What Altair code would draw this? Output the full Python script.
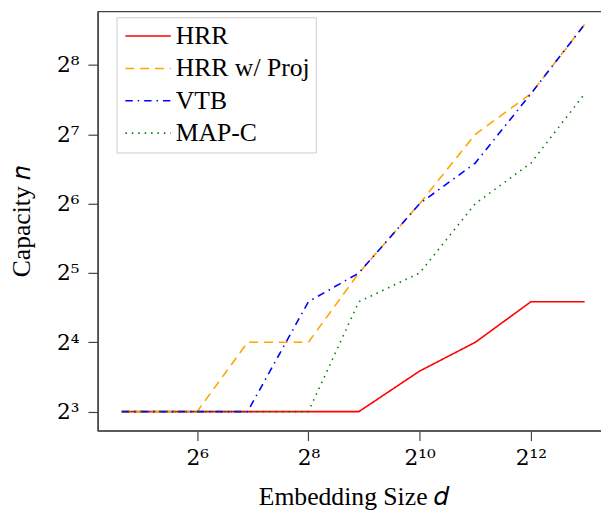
import altair as alt
import pandas as pd

# ---- data ----
d_values = [25, 64, 120, 256, 480, 1024, 2048, 4096, 8000]
hrr = [8, 8, 8, 8, 8, 12, 16, 24, 24]
hrr_proj = [8, 8, 16, 16, 32, 64, 128, 192, 384]
vtb = [8, 8, 8, 24, 32, 64, 96, 192, 384]
map_c = [8, 8, 8, 8, 24, 32, 64, 96, 192]

series_names = ["HRR", "HRR w/ Proj", "VTB", "MAP-C"]
series_values = [hrr, hrr_proj, vtb, map_c]
series_colors = ["#ff0000", "#ffa500", "#0000ff", "#008000"]
series_dashes = [[1, 0], [9, 6], [7.5, 5, 1.5, 5], [1.5, 5]]

x_ticks = [64, 256, 1024, 4096]
x_tick_labels = ["2⁶", "2⁸", "2¹⁰", "2¹²"]
y_ticks = [8, 16, 32, 64, 128, 256]
y_tick_labels = ["2³", "2⁴", "2⁵", "2⁶", "2⁷", "2⁸"]

rows = []
for name, vals in zip(series_names, series_values):
    for dv, nv in zip(d_values, vals):
        rows.append({"d": dv, "n": nv, "series": name})
df = pd.DataFrame(rows)


def label_expr(vals, labels):
    expr = "''"
    for v, lab in reversed(list(zip(vals, labels))):
        expr = f"abs(datum.value - {v}) < 0.001 ? '{lab}' : ({expr})"
    return expr


FONT = "Liberation Serif"
TICKFONT = "DejaVu Serif"
AX = "#444444"
W, H = 510, 425

x_scale = alt.Scale(type="log", base=2, domain=[18.56, 9810], nice=False)
y_scale = alt.Scale(type="log", base=2, domain=[6.61, 437.4], nice=False)

legend_cfg = dict(
    title=None,
    orient="none",
    legendX=19,
    legendY=6,
    symbolType="M-1,0L3.6,0",
    symbolSize=400,
    symbolStrokeWidth=1.6,
    labelFont=FONT,
    labelFontSize=26,
    labelColor="black",
    labelOffset=28,
    rowPadding=6.8,
    padding=6,
    strokeColor="#cccccc",
    fillColor="white",
)

chart = (
    alt.Chart(df)
    .mark_line(strokeWidth=1.6)
    .encode(
        x=alt.X(
            "d:Q",
            scale=x_scale,
            axis=alt.Axis(
                orient="bottom",
                values=x_ticks,
                labelExpr=label_expr(x_ticks, x_tick_labels),
                title="Embedding Size 𝑑",
                titleX=259,
                grid=False,
                tickSize=10,
                tickColor=AX,
                domainColor=AX,
                domainWidth=1.3,
                tickWidth=1.2,
                labelFont=TICKFONT,
                labelFontSize=22,
                labelColor="black",
                labelPadding=7,
                titleFont=FONT,
                titleFontSize=26,
                titleFontWeight="normal",
                titleColor="black",
                titlePadding=16,
            ),
        ),
        y=alt.Y(
            "n:Q",
            scale=y_scale,
            axis=alt.Axis(
                orient="left",
                values=y_ticks,
                labelExpr=label_expr(y_ticks, y_tick_labels),
                title="Capacity 𝑛",
                grid=False,
                tickSize=10,
                tickColor=AX,
                domainColor=AX,
                domainWidth=1.3,
                tickWidth=1.2,
                labelFont=TICKFONT,
                labelFontSize=22,
                labelColor="black",
                labelPadding=9,
                titleFont=FONT,
                titleFontSize=26,
                titleFontWeight="normal",
                titleColor="black",
                titlePadding=22,
            ),
        ),
        color=alt.Color(
            "series:N",
            scale=alt.Scale(domain=series_names, range=series_colors),
            legend=alt.Legend(**legend_cfg),
        ),
        strokeDash=alt.StrokeDash(
            "series:N",
            scale=alt.Scale(domain=series_names, range=series_dashes),
            legend=alt.Legend(**legend_cfg),
        ),
        order=alt.Order("d:Q"),
    )
    .properties(
        width=W,
        height=H,
        autosize=alt.AutoSizeParams(type="none"),
        padding={"left": 91, "top": 0, "right": 0, "bottom": 84},
    )
    .configure(background="white")
    .configure_view(stroke=AX, strokeWidth=1.3, strokeDash=[W, H, W + H])
)

chart.save("out.html", embed_options={"renderer": "svg", "actions": False})
